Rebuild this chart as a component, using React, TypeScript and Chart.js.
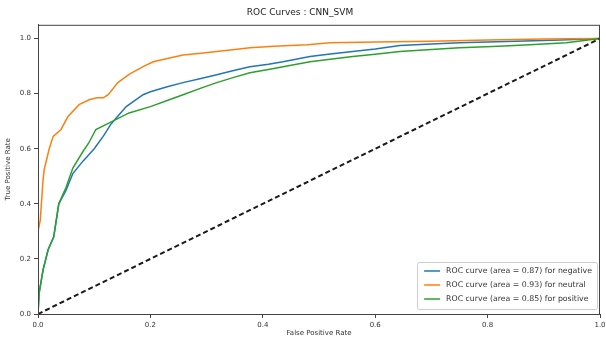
import React, { useEffect, useRef } from "react";
import { Chart, registerables } from "chart.js";

Chart.register(...registerables);

const chartTitle = "ROC Curves : CNN_SVM";
const xTitle = "False Positive Rate";
const yTitle = "True Positive Rate";
const tickValues = [0, 0.2, 0.4, 0.6, 0.8, 1.0];

const negLabel = "ROC curve (area = 0.87) for negative";
const neuLabel = "ROC curve (area = 0.93) for neutral";
const posLabel = "ROC curve (area = 0.85) for positive";

const negFpr = [0, 0.002, 0.009, 0.018, 0.028, 0.037, 0.05, 0.062, 0.08, 0.1, 0.116, 0.13, 0.157, 0.187, 0.2, 0.23, 0.258, 0.29, 0.318, 0.35, 0.377, 0.41, 0.436, 0.484, 0.52, 0.56, 0.6, 0.644, 0.7, 0.75, 0.85, 0.93, 1.0];
const negTpr = [0, 0.076, 0.16, 0.233, 0.28, 0.40, 0.45, 0.51, 0.555, 0.6, 0.645, 0.69, 0.753, 0.796, 0.807, 0.825, 0.84, 0.855, 0.869, 0.885, 0.898, 0.907, 0.916, 0.935, 0.944, 0.953, 0.962, 0.975, 0.98, 0.985, 0.99, 0.995, 1.0];

const neuFpr = [0, 0, 0, 0.004, 0.009, 0.011, 0.02, 0.027, 0.041, 0.053, 0.073, 0.091, 0.105, 0.116, 0.125, 0.142, 0.162, 0.187, 0.205, 0.23, 0.258, 0.29, 0.318, 0.35, 0.377, 0.42, 0.479, 0.52, 0.6, 0.7, 0.8, 0.9, 1.0];
const neuTpr = [0, 0.15, 0.3, 0.34, 0.487, 0.524, 0.6, 0.645, 0.67, 0.716, 0.76, 0.778, 0.785, 0.785, 0.796, 0.84, 0.87, 0.898, 0.916, 0.928, 0.94, 0.947, 0.953, 0.96, 0.967, 0.972, 0.978, 0.985, 0.988, 0.99, 0.995, 0.998, 1.0];

const posFpr = [0, 0.002, 0.009, 0.018, 0.028, 0.037, 0.05, 0.062, 0.08, 0.09, 0.103, 0.133, 0.162, 0.2, 0.23, 0.258, 0.29, 0.318, 0.35, 0.377, 0.41, 0.436, 0.484, 0.52, 0.56, 0.6, 0.644, 0.7, 0.75, 0.82, 0.875, 0.94, 1.0];
const posTpr = [0, 0.076, 0.16, 0.233, 0.28, 0.40, 0.46, 0.53, 0.59, 0.62, 0.67, 0.70, 0.73, 0.753, 0.775, 0.796, 0.82, 0.84, 0.86, 0.876, 0.888, 0.898, 0.916, 0.925, 0.935, 0.943, 0.953, 0.96, 0.967, 0.972, 0.978, 0.985, 1.0];

const diagFpr = [0, 1];
const diagTpr = [0, 1];

const toPoints = (xs: number[], ys: number[]) => xs.map((x, i) => ({ x, y: ys[i] }));

const FONT = "'DejaVu Sans', sans-serif";

const framePlugin = {
  id: "frame",
  afterDatasetsDraw(chart: any) {
    const { ctx, chartArea } = chart;
    ctx.save();
    ctx.strokeStyle = "#444";
    ctx.lineWidth = 1;
    ctx.strokeRect(chartArea.left + 0.5, chartArea.top + 0.5, chartArea.right - chartArea.left - 1, chartArea.bottom - chartArea.top);
    ctx.restore();
  },
  afterDraw(chart: any) {
    const { ctx, chartArea } = chart;
    const items = chart.data.datasets
      .filter((d: any) => d.legendIndex !== undefined)
      .sort((a: any, b: any) => a.legendIndex - b.legendIndex);
    ctx.save();
    ctx.font = `7.8px ${FONT}`;
    const maxW = Math.max(...items.map((d: any) => ctx.measureText(d.label).width));
    const rowH = 14;
    const boxW = 29 + maxW + 5;
    const boxH = items.length * rowH + 5;
    const right = chartArea.right - 3;
    const bottom = chartArea.bottom - 5;
    const left = right - boxW;
    const top = bottom - boxH;
    ctx.fillStyle = "rgba(255,255,255,0.85)";
    ctx.strokeStyle = "#cccccc";
    ctx.lineWidth = 1;
    ctx.beginPath();
    (ctx as any).roundRect(left + 0.5, top + 0.5, boxW, boxH, 2);
    ctx.fill();
    ctx.stroke();
    items.forEach((d: any, i: number) => {
      const cy = top + 9 + i * rowH;
      ctx.strokeStyle = d.borderColor;
      ctx.lineWidth = 1.5;
      ctx.beginPath();
      ctx.moveTo(left + 7, cy);
      ctx.lineTo(left + 23, cy);
      ctx.stroke();
      ctx.fillStyle = "#333";
      ctx.textBaseline = "middle";
      ctx.textAlign = "left";
      ctx.fillText(d.label, left + 29, cy);
    });
    ctx.restore();
  },
};

export default function App() {
  const ref = useRef<HTMLCanvasElement | null>(null);

  useEffect(() => {
    if (!ref.current) return;
    const tickCfg = {
      font: { family: FONT, size: 7 },
      color: "#333",
      padding: 3,
      callback: (v: any) => Number(v).toFixed(1),
    };
    const gridCfg = {
      display: true,
      drawOnChartArea: false,
      drawTicks: true,
      tickLength: 4,
      color: "#444",
    };
    const chart = new Chart(ref.current, {
      type: "line",
      data: {
        datasets: [
          {
            label: "diag",
            data: toPoints(diagFpr, diagTpr),
            borderColor: "#1a1a1a",
            borderWidth: 2,
            borderDash: [5, 3],
            pointRadius: 0,
            order: 0,
          } as any,
          {
            label: posLabel,
            data: toPoints(posFpr, posTpr),
            borderColor: "#2ca02c",
            borderWidth: 1.5,
            pointRadius: 0,
            order: 1,
            legendIndex: 2,
          } as any,
          {
            label: neuLabel,
            data: toPoints(neuFpr, neuTpr),
            borderColor: "#ff7f0e",
            borderWidth: 1.5,
            pointRadius: 0,
            order: 2,
            legendIndex: 1,
          } as any,
          {
            label: negLabel,
            data: toPoints(negFpr, negTpr),
            borderColor: "#1f77b4",
            borderWidth: 1.5,
            pointRadius: 0,
            order: 3,
            legendIndex: 0,
          } as any,
        ],
      },
      options: {
        responsive: false,
        animation: false,
        devicePixelRatio: 1,
        layout: { padding: { left: 0, right: 6, top: 0, bottom: 0 } },
        plugins: {
          legend: { display: false },
          tooltip: { enabled: false },
          title: {
            display: true,
            text: chartTitle,
            font: { family: FONT, size: 9, weight: "normal" },
            color: "#222",
            padding: { top: 7, bottom: 7 },
          },
        },
        scales: {
          x: {
            type: "linear",
            min: 0,
            max: 1,
            ticks: tickCfg as any,
            grid: gridCfg as any,
            border: { display: true, color: "#444" },
            title: {
              display: true,
              text: xTitle,
              font: { family: FONT, size: 7 },
              color: "#333",
              padding: { top: 2, bottom: 3 },
            },
            afterBuildTicks: (s: any) => {
              s.ticks = tickValues.map((v) => ({ value: v }));
            },
            afterFit: (s: any) => {
              s.height = 26;
              s.paddingLeft = 0;
              s.paddingRight = 0;
            },
          },
          y: {
            type: "linear",
            min: 0,
            max: 1.05,
            ticks: tickCfg as any,
            grid: gridCfg as any,
            border: { display: true, color: "#444" },
            title: {
              display: true,
              text: yTitle,
              font: { family: FONT, size: 7 },
              color: "#333",
              padding: { top: 4, bottom: 2 },
            },
            afterBuildTicks: (s: any) => {
              s.ticks = tickValues.map((v) => ({ value: v }));
            },
            afterFit: (s: any) => {
              s.width = 38;
              s.paddingTop = 0;
              s.paddingBottom = 0;
            },
          },
        },
      } as any,
      plugins: [framePlugin],
    });
    return () => chart.destroy();
  }, []);

  return (
    <div style={{ position: "absolute", left: 0, top: 0, width: 606, height: 340, overflow: "hidden", background: "#fff" }}>
      <canvas ref={ref} width={606} height={340} style={{ width: 606, height: 340, display: "block" }} />
    </div>
  );
}
